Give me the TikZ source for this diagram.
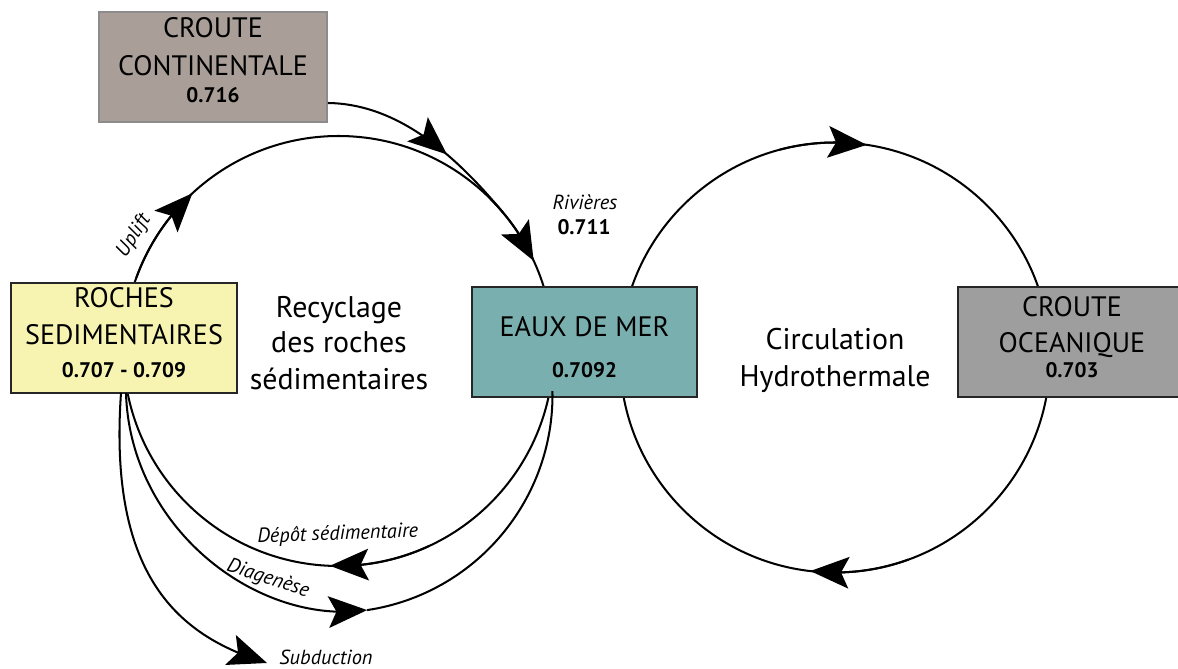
\documentclass[tikz,border=0pt]{standalone}
\usepackage{fontspec}
\setmainfont{PT Sans}
\usetikzlibrary{arrows.meta,bending,decorations.markings,calc}
\definecolor{ccfill}{RGB}{169,159,152}
\definecolor{rsfill}{RGB}{247,244,178}
\definecolor{emfill}{RGB}{121,175,174}
\definecolor{cofill}{RGB}{157,158,157}
\tikzset{
  >={Stealth[length=22pt,width=18pt,inset=4.5pt]},
  flow/.style={line width=1.15pt, black},
  box/.style={draw=black!85, line width=1.1pt, rectangle, inner sep=0pt},
  title/.style={font=\fontsize{16}{19}\selectfont, anchor=base, inner sep=0pt},
  num/.style={font=\fontsize{12}{14}\selectfont\bfseries, anchor=base, inner sep=0pt},
  lab/.style={font=\fontsize{11.6}{13}\selectfont\itshape, inner sep=0pt},
  midtext/.style={font=\fontsize{17}{20}\selectfont, anchor=base, inner sep=0pt},
}
\begin{document}
\begin{tikzpicture}[x=0.02cm,y=0.02cm]
\fill[white] (0,0) rectangle (1178,669);
\useasboundingbox (0,0) rectangle (1178,669);

% circle centres
\coordinate (L) at (338.5,318);
\coordinate (R) at (835,311.5);

% cycles
\draw[flow] (L) circle[radius=215];
\draw[flow] (R) circle[radius=215];

% arrowheads on the cycles
\draw[flow,->] ($(L)+(160:215)$) arc[start angle=160,end angle=132.8,radius=215];
\draw[flow,->] ($(L)+(45:215)$) arc[start angle=45,end angle=24.8,radius=215];
\draw[flow,->] ($(L)+(295:215)$) arc[start angle=295,end angle=267.7,radius=215];
\draw[flow,->] ($(R)+(105:215)$) arc[start angle=105,end angle=81.5,radius=215];
\draw[flow,->] ($(R)+(290:215)$) arc[start angle=290,end angle=263.4,radius=215];

% boxes
\node[box, fill=ccfill, draw=black!45, minimum width=4.56cm, minimum height=2.2cm] (CC) at (213,602) {};
\node[box, fill=rsfill, minimum width=4.52cm, minimum height=2.2cm] (RS) at (124,331) {};
\node[box, fill=emfill, minimum width=4.5cm, minimum height=2.2cm] (EM) at (584.5,327) {};
\node[box, fill=cofill, minimum width=4.56cm, minimum height=2.2cm] (CO) at (1072,327) {};

% connector coordinates
\coordinate (ccout) at (CC.east |- 0,566);
\coordinate (ccjoin) at ($(L)+(40:215)$);
\coordinate (dgS) at (126,276);
\coordinate (dgC) at (335,274);
\coordinate (dgT) at ($(dgC)+(278.5:217.5)$);
\coordinate (sbS) at (121,276);
\coordinate (sbE) at (267,6);

% rivers from continental crust
\draw[flow, postaction={decorate}, decoration={markings, mark=at position 0.62 with {\arrow{>}}}]
  (ccout) .. controls (400,565) and (457.4,511.2) .. (ccjoin);

% diagenese
\draw[flow,->] (dgS) .. controls (130,140) and (258,43) .. (dgT);
\draw[flow] (dgT) arc[start angle=278.5,end angle=361,radius=217.5];

% subduction
\draw[flow,->] (sbS) .. controls (108,90) and (181,32) .. (sbE);

% box texts
\node[title] (cc1) at (213,631) {CROUTE};
\node[title] (cc2) at (213,593) {CONTINENTALE};
\node[num] (cc3) at (213,566) {0.716};
\node[title] (rs1) at (124,361) {ROCHES};
\node[title] (rs2) at (124,324) {SEDIMENTAIRES};
\node[num] (rs3) at (124,291) {0.707 - 0.709};
\node[title] (em1) at (584.5,332) {EAUX DE MER};
\node[num] (em2) at (584.5,291) {0.7092};
\node[title] (co1) at (1072,352) {CROUTE};
\node[title] (co2) at (1072,316) {OCEANIQUE};
\node[num] (co3) at (1072,291) {0.703};

% centre texts
\node[midtext] (t1) at (339,351) {Recyclage};
\node[midtext] (t2) at (339,316) {des roches};
\node[midtext] (t3) at (339,279) {sédimentaires};
\node[midtext] (t4) at (835,319) {Circulation};
\node[midtext] (t5) at (835,282) {Hydrothermale};

% flow labels
\node[lab, rotate=57] (up) at (134,433) {Uplift};
\node[lab] (riv) at (585,467) {Rivières};
\node[num] (rivn) at (584,434) {0.711};
\node[lab, anchor=base, rotate=2] (dep) at (338,129) {Dépôt sédimentaire};
\node[lab, rotate=-18] (dia) at (268,90) {Diagenèse};
\node[lab, anchor=base] (sub) at (326,4) {Subduction};
\end{tikzpicture}
\end{document}
